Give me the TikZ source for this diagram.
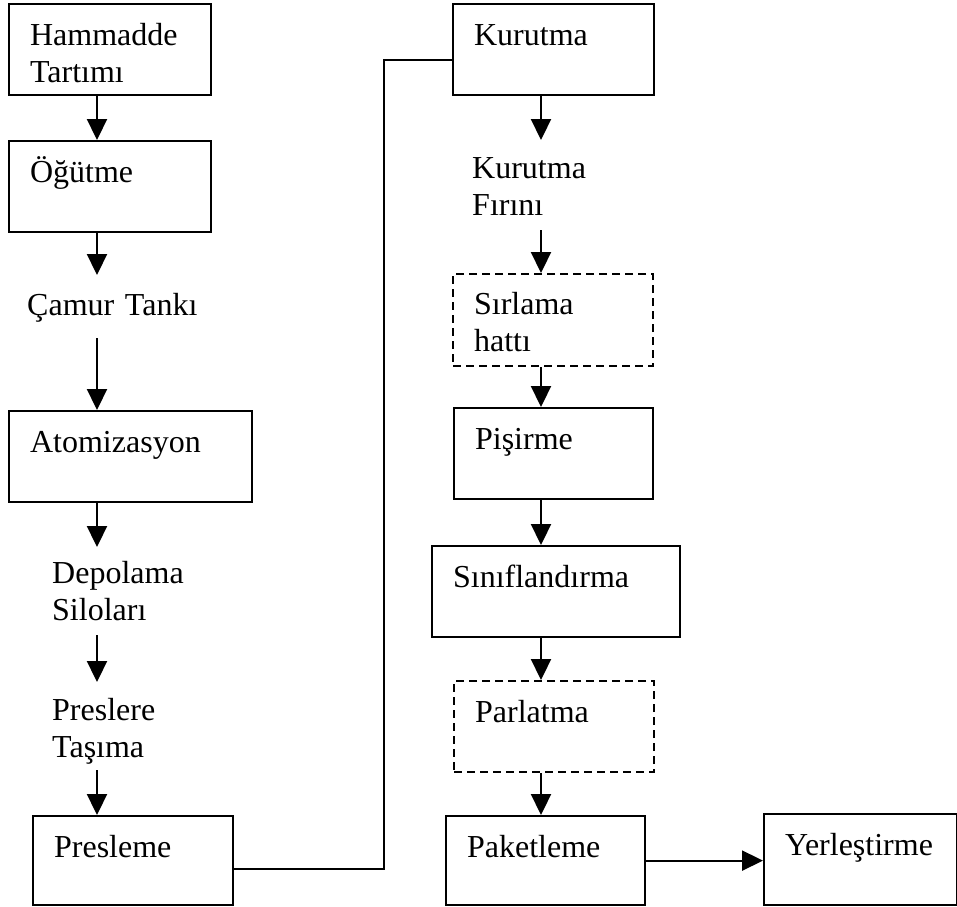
\documentclass[tikz,border=0pt]{standalone}
\usepackage{fontspec}
\setmainfont{Liberation Serif}
\usepackage{tikz}
\usetikzlibrary{arrows.meta}

\begin{document}
\begin{tikzpicture}[x=1pt,y=-1pt,font=\fontsize{32}{37}\selectfont,
  stage/.style={draw,line width=2.2pt,anchor=north west,align=left,inner xsep=21pt,inner ysep=0pt,text height=41pt,text depth=50pt,text width=#1},
  stagetext/.style={anchor=north west,align=left,inner sep=0pt,text height=38pt,text depth=52pt,text width=#1},
  optional/.style={dash pattern=on 8pt off 5pt},
  flow/.style={line width=2.2pt,-{Triangle[length=21pt,width=20pt]}},
  link/.style={line width=2.2pt}]
\useasboundingbox (0,0) rectangle (957,906);
\coordinate (lcol) at (97,0);
\coordinate (rcol) at (541,0);
\coordinate (bus) at (384,0);
\node [stage=160pt] (hammadde) at (8,3) {Hammadde\\Tartımı};
\node [stage=160pt] (ogutme) at (8,140) {Öğütme};
\node [stagetext=180pt,text height=40pt,text depth=23pt] (camur) at (27,275) {Çamur Tankı};
\node [stage=201pt] (atomizasyon) at (8,410) {Atomizasyon};
\node [stagetext=150pt,text height=36pt] (depolama) at (52,547) {Depolama\\Siloları};
\node [stagetext=150pt,text depth=50pt] (preslere) at (52,682) {Preslere\\Taşıma};
\node [stage=158pt,text depth=48pt] (presleme) at (32,815) {Presleme};
\node [stage=159pt] (kurutma) at (452,3) {Kurutma};
\node [stagetext=150pt] (firin) at (472,140) {Kurutma\\Fırını};
\node [stage=158pt,optional,text height=40pt,text depth=52pt] (sirlama) at (452,273) {Sırlama\\hattı};
\node [stage=157pt] (pisirme) at (453,407) {Pişirme};
\node [stage=206pt] (siniflandirma) at (431,545) {Sınıflandırma};
\node [stage=158pt,optional] (parlatma) at (453,680) {Parlatma};
\node [stage=157pt,text depth=48pt] (paketleme) at (445,815) {Paketleme};
\node [stage=151pt] (yerlestirme) at (763,813) {Yerleştirme};
\foreach \a/\b in {hammadde/ogutme,ogutme/camur,camur/atomizasyon,atomizasyon/depolama,depolama/preslere,preslere/presleme}
  \draw [flow] (\a.south -| lcol) -- (\b.north -| lcol);
\foreach \a/\b in {kurutma/firin,firin/sirlama,sirlama/pisirme,pisirme/siniflandirma,siniflandirma/parlatma,parlatma/paketleme}
  \draw [flow] (\a.south -| rcol) -- (\b.north -| rcol);
\coordinate (pout) at ([yshift=-8pt]presleme.east);
\coordinate (kin) at ([yshift=-10pt]kurutma.west);
\draw [link] (pout) -- (pout -| bus) -- (kin -| bus) -- (kin);
\draw [flow] (paketleme.east) -- (paketleme.east -| yerlestirme.west);
\end{tikzpicture}
\end{document}
